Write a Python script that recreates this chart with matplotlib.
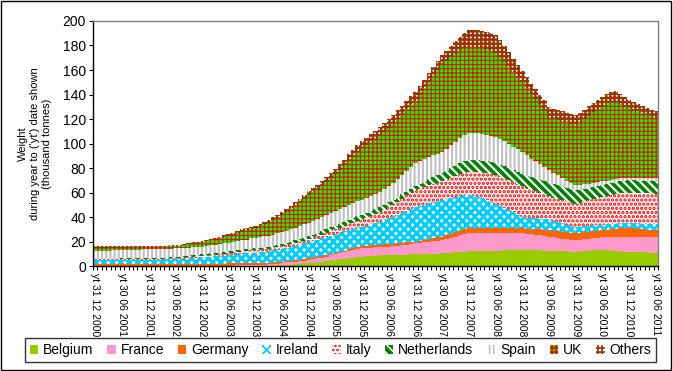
import numpy as np
import matplotlib.pyplot as plt
from matplotlib.patches import Rectangle

plt.rcParams['font.family'] = ['Liberation Sans', 'DejaVu Sans']

# monthly "year to date" totals, Dec 2000 .. Jun 2011 (thousand tonnes)
tick_labels = [
    "yt 31 12 2000", "yt 30 06 2001", "yt 31 12 2001", "yt 30 06 2002",
    "yt 31 12 2002", "yt 30 06 2003", "yt 31 12 2003", "yt 30 06 2004",
    "yt 31 12 2004", "yt 30 06 2005", "yt 31 12 2005", "yt 30 06 2006",
    "yt 31 12 2006", "yt 30 06 2007", "yt 31 12 2007", "yt 30 06 2008",
    "yt 31 12 2008", "yt 30 06 2009", "yt 31 12 2009", "yt 30 06 2010",
    "yt 31 12 2010", "yt 30 06 2011",
]

belgium = [
    0.0,
    0.0, 0.0, 0.0, 0.0, 0.0, 0.0, 0.0, 0.0, 0.0, 0.0, 0.0, 0.0,
    0.0, 0.0, 0.0, 0.0, 0.0, 0.0, 0.0, 0.0, 0.0, 0.0, 0.0, 0.0,
    0.0, 0.0, 0.0, 0.0, 0.0, 0.1, 0.1, 0.2, 0.2, 0.2, 0.3, 0.3,
    0.3, 0.4, 0.4, 0.5, 0.6, 0.8, 1.0, 1.2, 1.5, 1.8, 2.1, 2.5,
    2.8, 3.2, 3.6, 4.0, 4.5, 5.0, 5.4, 5.8, 6.3, 6.8, 7.2, 7.5,
    7.8, 8.1, 8.4, 8.6, 8.8, 9.0, 9.0, 9.1, 9.2, 9.3, 9.4, 9.5,
    9.6, 9.7, 9.8, 10.0, 10.1, 10.3, 10.6, 10.9, 11.2, 11.5, 11.8, 12.0,
    12.1, 12.2, 12.3, 12.4, 12.5, 12.5, 12.6, 12.7, 12.8, 12.9, 13.0, 13.0,
    12.9, 12.8, 12.8, 12.7, 12.6, 12.5, 12.3, 12.2, 12.0, 11.9, 11.8, 11.7,
    11.9, 12.2, 12.5, 12.8, 13.0, 13.0, 12.8, 12.5, 12.3, 12.0, 11.8, 11.7,
    11.5, 11.4, 11.2, 11.1, 11.0, 10.9,
]
france = [
    0.2,
    0.2, 0.2, 0.2, 0.2, 0.2, 0.2, 0.2, 0.2, 0.2, 0.2, 0.2, 0.2,
    0.2, 0.2, 0.2, 0.3, 0.3, 0.3, 0.3, 0.3, 0.3, 0.3, 0.3, 0.3,
    0.3, 0.3, 0.3, 0.3, 0.3, 0.3, 0.3, 0.4, 0.4, 0.4, 0.5, 0.5,
    0.6, 0.7, 0.9, 1.1, 1.4, 1.7, 1.9, 2.0, 2.1, 2.2, 2.3, 2.5,
    2.7, 3.0, 3.3, 3.7, 4.1, 4.5, 5.0, 5.5, 6.0, 6.4, 6.8, 7.0,
    7.0, 7.0, 6.9, 6.9, 6.8, 6.8, 7.0, 7.3, 7.7, 8.2, 8.6, 9.0,
    9.2, 9.5, 9.8, 10.1, 10.4, 10.7, 11.3, 12.0, 12.8, 13.6, 14.4, 15.0,
    15.0, 15.0, 14.9, 14.8, 14.7, 14.5, 14.4, 14.3, 14.2, 14.1, 14.0, 14.0,
    13.6, 13.2, 12.8, 12.4, 12.0, 11.5, 11.0, 10.6, 10.2, 9.8, 9.5, 9.3,
    9.4, 9.6, 9.8, 10.0, 10.2, 10.4, 10.8, 11.2, 11.6, 11.9, 12.1, 12.3,
    12.4, 12.4, 12.5, 12.5, 12.5, 12.5,
]
germany = [
    1.8,
    1.8, 1.8, 1.8, 1.8, 1.8, 1.8, 1.8, 1.8, 1.8, 1.8, 1.8, 1.8,
    1.8, 1.8, 1.8, 1.7, 1.7, 1.7, 1.7, 1.7, 1.7, 1.7, 1.7, 1.7,
    1.7, 1.7, 1.7, 1.7, 1.7, 1.7, 1.7, 1.7, 1.7, 1.7, 1.7, 1.7,
    1.6, 1.5, 1.4, 1.3, 1.2, 1.0, 1.0, 1.1, 1.2, 1.3, 1.4, 1.5,
    1.5, 1.4, 1.3, 1.2, 1.1, 1.0, 1.1, 1.2, 1.3, 1.4, 1.5, 1.5,
    1.6, 1.7, 1.8, 1.9, 2.0, 2.2, 2.2, 2.0, 1.9, 1.8, 1.6, 1.5,
    1.7, 2.0, 2.3, 2.6, 2.8, 3.0, 3.2, 3.4, 3.6, 3.8, 3.9, 4.0,
    4.0, 4.0, 4.0, 4.0, 4.0, 4.0, 4.0, 4.0, 4.0, 4.0, 4.0, 4.0,
    4.1, 4.3, 4.6, 4.9, 5.2, 5.4, 5.6, 5.8, 5.9, 6.0, 6.0, 6.0,
    5.9, 5.8, 5.7, 5.7, 5.6, 5.6, 5.9, 6.2, 6.5, 6.8, 6.9, 7.0,
    6.8, 6.5, 6.2, 6.0, 5.8, 5.6,
]
ireland = [
    3.0,
    3.0, 3.0, 3.0, 3.0, 3.0, 3.0, 3.0, 3.1, 3.1, 3.1, 3.2, 3.2,
    3.2, 3.3, 3.3, 3.4, 3.4, 3.5, 3.7, 3.9, 4.2, 4.5, 4.8, 5.0,
    5.3, 5.6, 5.9, 6.2, 6.5, 6.8, 7.1, 7.4, 7.7, 8.0, 8.3, 8.5,
    8.8, 9.1, 9.4, 9.8, 10.2, 10.5, 10.9, 11.3, 11.8, 12.2, 12.6, 13.0,
    13.4, 13.8, 14.3, 14.7, 15.1, 15.5, 15.6, 15.7, 15.8, 15.9, 16.0, 16.0,
    16.5, 17.2, 18.0, 18.8, 19.8, 21.0, 22.2, 23.5, 24.8, 26.0, 27.2, 28.0,
    28.5, 29.0, 29.5, 29.8, 30.0, 30.0, 29.8, 29.5, 29.0, 28.5, 27.8, 27.0,
    26.2, 25.2, 24.0, 22.8, 21.4, 20.0, 18.3, 16.5, 14.6, 12.7, 10.8, 9.0,
    8.9, 8.8, 8.8, 8.7, 8.7, 8.6, 8.0, 7.3, 6.6, 6.0, 5.4, 5.0,
    4.9, 4.8, 4.7, 4.6, 4.5, 4.5, 4.4, 4.3, 4.2, 4.1, 4.0, 4.0,
    4.2, 4.4, 4.6, 4.7, 4.9, 5.0,
]
italy = [
    0.5,
    0.5, 0.5, 0.5, 0.5, 0.5, 0.5, 0.5, 0.5, 0.6, 0.6, 0.6, 0.6,
    0.6, 0.7, 0.7, 0.7, 0.8, 0.8, 0.8, 0.9, 0.9, 0.9, 1.0, 1.0,
    1.1, 1.2, 1.2, 1.3, 1.4, 1.5, 1.6, 1.7, 1.8, 1.8, 1.9, 2.0,
    2.0, 2.0, 2.0, 2.0, 2.0, 2.0, 2.1, 2.2, 2.3, 2.4, 2.4, 2.5,
    2.7, 2.9, 3.2, 3.5, 3.8, 4.0, 4.2, 4.5, 4.8, 5.0, 5.3, 5.5,
    6.0, 6.5, 7.1, 7.7, 8.3, 9.0, 9.8, 10.6, 11.4, 12.3, 13.2, 14.0,
    14.2, 14.3, 14.5, 14.6, 14.8, 15.0, 15.6, 16.3, 17.0, 17.7, 18.4, 19.0,
    19.6, 20.3, 21.0, 21.7, 22.3, 23.0, 23.4, 23.8, 24.2, 24.5, 24.8, 25.0,
    24.0, 23.0, 22.0, 21.0, 20.0, 19.0, 19.0, 19.0, 19.0, 19.0, 19.0, 19.0,
    19.6, 20.3, 21.0, 21.7, 22.3, 23.0, 23.4, 23.8, 24.2, 24.5, 24.8, 25.0,
    25.0, 25.0, 25.0, 25.0, 25.0, 25.0,
]
netherlands = [
    0.5,
    0.5, 0.5, 0.6, 0.6, 0.6, 0.7, 0.7, 0.7, 0.7, 0.7, 0.7, 0.7,
    0.7, 0.7, 0.8, 0.8, 0.9, 0.9, 1.0, 1.1, 1.2, 1.3, 1.4, 1.5,
    1.5, 1.5, 1.5, 1.5, 1.5, 1.5, 1.5, 1.5, 1.5, 1.5, 1.5, 1.5,
    1.6, 1.7, 1.8, 1.8, 1.9, 2.0, 2.1, 2.2, 2.3, 2.4, 2.4, 2.5,
    2.6, 2.7, 2.8, 2.8, 2.9, 3.0, 3.2, 3.4, 3.6, 3.7, 3.9, 4.0,
    4.0, 4.0, 4.0, 4.0, 4.0, 4.0, 3.8, 3.6, 3.4, 3.2, 3.1, 3.0,
    3.5, 4.2, 4.9, 5.6, 6.3, 7.0, 7.4, 7.8, 8.3, 8.7, 9.1, 9.5,
    9.6, 9.7, 9.8, 9.8, 9.9, 10.0, 10.0, 10.0, 10.0, 10.0, 10.0, 10.0,
    10.2, 10.3, 10.5, 10.7, 10.8, 11.0, 11.0, 11.0, 11.0, 11.0, 11.0, 11.0,
    10.7, 10.4, 10.1, 9.8, 9.6, 9.4, 9.5, 9.6, 9.7, 9.8, 9.9, 10.0,
    10.0, 10.0, 10.0, 10.0, 10.0, 10.0,
]
spain = [
    6.5,
    6.5, 6.5, 6.5, 6.6, 6.6, 6.6, 6.7, 6.8, 6.8, 6.9, 7.0, 7.0,
    7.0, 7.0, 7.0, 7.0, 7.1, 7.1, 7.0, 6.9, 6.7, 6.6, 6.4, 6.3,
    6.4, 6.5, 6.6, 6.8, 7.0, 7.1, 7.3, 7.5, 7.8, 8.0, 8.3, 8.5,
    8.6, 8.8, 8.9, 9.1, 9.3, 9.5, 9.7, 10.0, 10.2, 10.5, 10.8, 11.0,
    11.2, 11.4, 11.6, 11.7, 11.9, 12.0, 12.1, 12.2, 12.3, 12.4, 12.5, 12.5,
    12.6, 12.7, 12.8, 12.8, 12.9, 13.0, 14.0, 15.0, 16.0, 17.0, 18.0, 19.0,
    18.7, 18.4, 18.0, 17.7, 17.3, 17.0, 17.8, 18.6, 19.5, 20.4, 21.2, 22.0,
    22.0, 22.0, 21.9, 21.8, 21.6, 21.5, 21.0, 20.5, 20.0, 19.3, 18.7, 18.0,
    16.7, 15.3, 14.0, 12.7, 11.3, 10.0, 9.0, 8.0, 7.0, 6.0, 5.0, 4.0,
    3.8, 3.7, 3.5, 3.4, 3.2, 3.1, 2.9, 2.7, 2.5, 2.4, 2.2, 2.0,
    2.1, 2.2, 2.3, 2.3, 2.4, 2.5,
]
uk = [
    2.5,
    2.5, 2.5, 2.4, 2.4, 2.3, 2.2, 2.2, 2.1, 2.1, 2.0, 2.0, 2.0,
    2.0, 1.9, 1.9, 1.8, 1.8, 1.8, 2.0, 2.3, 2.6, 3.0, 3.3, 3.7,
    4.0, 4.3, 4.6, 4.9, 5.2, 5.5, 6.0, 6.5, 7.0, 7.5, 7.8, 8.0,
    8.8, 9.7, 10.7, 11.7, 12.8, 14.0, 15.3, 16.6, 18.0, 19.5, 21.0, 22.5,
    23.5, 24.8, 26.0, 27.3, 28.6, 30.0, 32.0, 34.0, 36.0, 38.0, 40.0, 42.0,
    43.0, 44.0, 45.0, 46.0, 47.0, 48.0, 48.5, 49.0, 49.5, 50.0, 50.5, 51.0,
    54.5, 58.0, 61.5, 65.0, 68.5, 72.0, 72.0, 71.8, 71.6, 71.3, 71.0, 70.5,
    70.3, 70.0, 69.7, 69.3, 69.0, 68.5, 67.0, 65.0, 63.0, 61.0, 59.0, 57.0,
    55.0, 52.5, 50.5, 48.5, 46.5, 44.0, 44.5, 45.5, 46.5, 47.5, 48.0, 49.0,
    51.0, 53.0, 55.5, 58.0, 60.0, 62.0, 63.0, 63.5, 63.0, 61.0, 59.0, 57.0,
    55.5, 54.5, 53.0, 52.0, 50.5, 49.5,
]
others = [
    1.0,
    1.0, 1.0, 1.0, 1.0, 1.0, 1.0, 1.0, 1.0, 1.0, 1.0, 1.0, 1.0,
    1.0, 1.0, 1.0, 1.0, 1.0, 1.0, 1.0, 1.0, 1.0, 1.0, 1.0, 1.0,
    1.0, 1.1, 1.2, 1.3, 1.4, 1.5, 1.6, 1.7, 1.8, 1.8, 1.9, 2.0,
    2.1, 2.2, 2.3, 2.3, 2.4, 2.5, 2.6, 2.7, 2.8, 2.8, 2.9, 3.0,
    3.2, 3.3, 3.5, 3.7, 3.8, 4.0, 4.3, 4.6, 5.0, 5.3, 5.7, 6.0,
    6.2, 6.3, 6.5, 6.7, 6.8, 7.0, 7.0, 7.0, 7.0, 7.0, 7.0, 7.0,
    7.0, 7.0, 7.0, 7.0, 7.0, 7.0, 8.2, 9.3, 10.5, 11.7, 12.8, 14.0,
    14.1, 14.2, 14.3, 14.3, 14.4, 14.5, 13.5, 12.5, 11.5, 10.5, 9.5, 9.0,
    8.8, 8.7, 8.5, 8.3, 8.2, 8.0, 8.0, 8.0, 8.0, 8.0, 8.0, 8.0,
    7.8, 7.7, 7.5, 7.3, 7.2, 7.0, 8.0, 8.5, 9.0, 8.0, 7.2, 6.5,
    6.3, 6.1, 5.9, 5.7, 5.5, 5.3,
]

names = ["Belgium", "France", "Germany", "Ireland", "Italy",
         "Netherlands", "Spain", "UK", "Others"]
data = [belgium, france, germany, ireland, italy, netherlands, spain, uk, others]

# face colour, hatch, hatch colour, hatch line width
styles = [
    ("#99CC00", None, "#99CC00", 1.0),
    ("#FF99CC", None, "#FF99CC", 1.0),
    ("#FF6600", None, "#FF6600", 1.0),
    ("white", "xxxx", "#00CCFF", 2.2),
    ("white", "....", "#FF0000", 1.6),
    ("#008000", "\\\\\\\\", "white", 1.6),
    ("white", "||||", "#C0C0C0", 1.5),
    ("#00FF00", "++++", "#FF0000", 0.8),
    ("white", "++++", "#993300", 1.7),
]

fig = plt.figure(figsize=(6.73, 3.71), dpi=100)
ax = fig.add_axes([0.1382, 0.283, 0.8395, 0.6604])

x = np.arange(len(belgium))
bottom = np.zeros(len(x))
handles = []
for name, vals, (fc, h, hc, hlw) in zip(names, data, styles):
    vals = np.array(vals)
    bars = ax.bar(x, vals, bottom=bottom, width=1.0, color=fc,
                  edgecolor=hc, linewidth=0, hatch=h, label=name,
                  antialiased=False)
    for p in bars:
        p.set_hatch_linewidth(hlw)
    handles.append(bars)
    bottom = bottom + vals

ax.set_xlim(-0.5, len(x) - 0.5)
ax.set_ylim(0, 200)
ax.set_yticks(range(0, 201, 20))
ax.tick_params(axis="y", labelsize=10, length=3, width=0.8, pad=2)

ax.set_xticks(np.arange(0, len(x), 6))
ax.set_xticklabels(tick_labels, rotation=270, fontsize=7.5)
ax.set_xticks(np.arange(-0.5, len(x), 1), minor=True)
ax.tick_params(axis="x", which="major", length=0, pad=5)
ax.tick_params(axis="x", which="minor", length=3, width=0.8)

for s in ["left", "bottom"]:
    ax.spines[s].set_color("black")
    ax.spines[s].set_linewidth(1)
for s in ["top", "right"]:
    ax.spines[s].set_color("#808080")
    ax.spines[s].set_linewidth(1)

fig.text(35 / 673, 1 - 143.5 / 371,
         "Weight\nduring year to ('yt') date shown\n(thousand tonnes)",
         rotation=90, ha="center", va="center", multialignment="center",
         fontsize=8)

leg = fig.legend(handles, names, loc="center", bbox_to_anchor=(0.506, 0.0566),
                 ncol=9, frameon=True, fancybox=False, edgecolor="black",
                 fontsize=10, handlelength=0.6, handleheight=0.6,
                 handletextpad=0.35, columnspacing=1.0, borderpad=0.35,
                 borderaxespad=0)
leg.get_frame().set_linewidth(1)
for lp in leg.get_patches():
    lp.set_hatch_linewidth(1.2)

fig.patches.append(Rectangle((0.0015, 0.003), 0.995, 0.993,
                             transform=fig.transFigure, fill=False,
                             edgecolor="black", linewidth=1))

fig.savefig("out.png", dpi=100)
